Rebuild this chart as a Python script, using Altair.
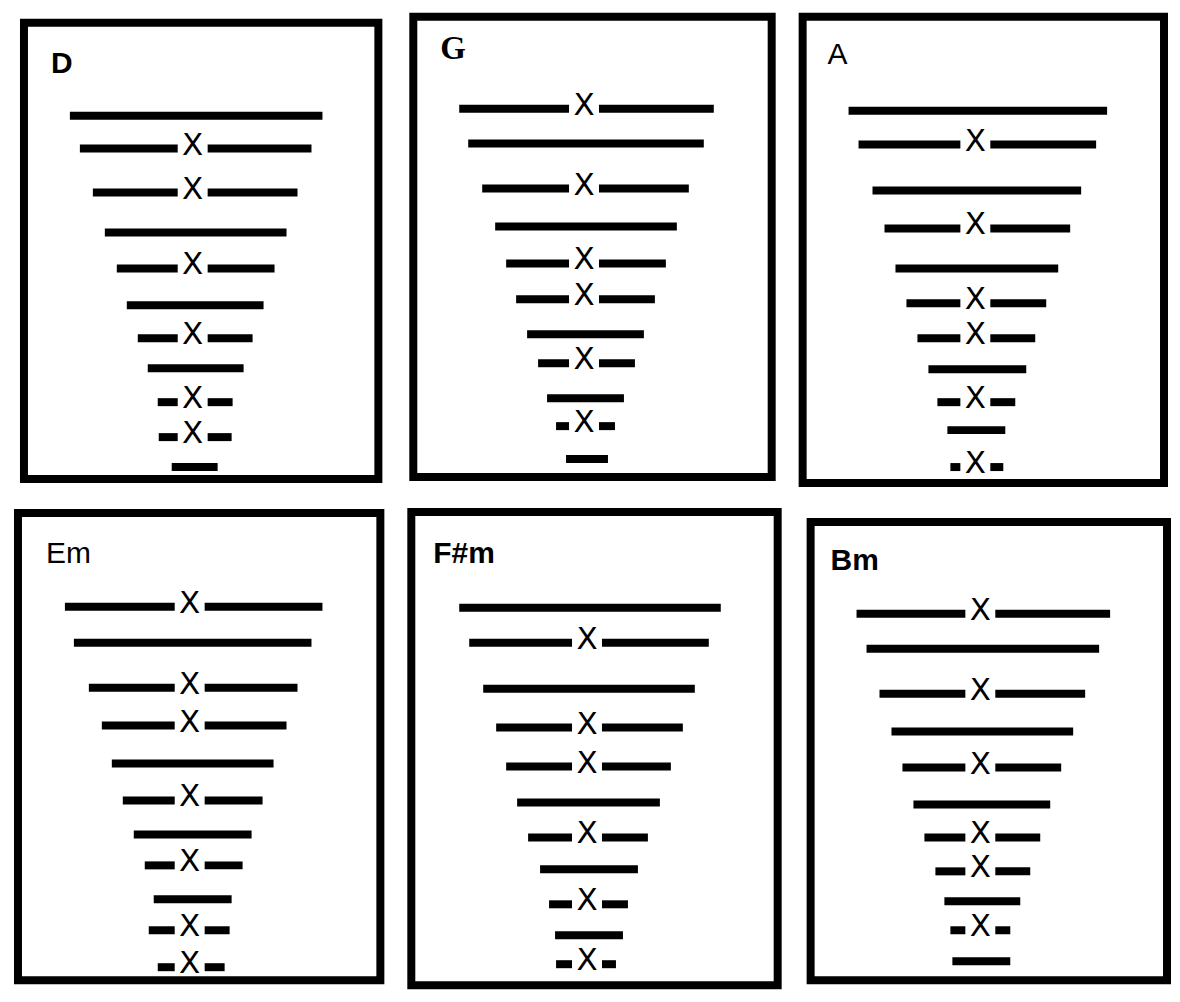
import altair as alt
import pandas as pd

# ---------------- data ----------------
chords = ["D", "G", "A", "Em", "F#m", "Bm"]

# panel frames (outer box centre-line, picture pixels)
frame_x1 = [24, 414, 804, 18, 412, 812]
frame_x2 = [379, 773, 1166, 381, 779, 1169]
frame_y1 = [22, 16, 16, 513, 512, 522]
frame_y2 = [479, 477, 483, 981, 986, 981]

# chord names (left / baseline)
label_x = [51, 441, 829, 46, 434, 832]
label_y = [72, 58, 63, 563, 563, 570]

# column where the X marks sit
x_col = [193, 585, 977, 190, 588, 982]

D_y = [115, 148, 192, 232, 268, 305, 338, 368, 402, 437, 467]
D_left = [70, 80, 93, 105, 117, 127, 138, 148, 158, 159, 172]
D_right = [323, 312, 298, 287, 275, 264, 253, 244, 233, 232, 218]
D_mark = [0, 1, 1, 0, 1, 0, 1, 0, 1, 1, 0]

G_y = [108, 143, 188, 226, 263, 299, 334, 363, 398, 426, 459]
G_left = [460, 469, 483, 496, 507, 517, 528, 539, 548, 557, 567]
G_right = [715, 705, 690, 678, 667, 656, 645, 636, 625, 616, 609]
G_mark = [1, 0, 1, 0, 1, 1, 0, 1, 0, 1, 0]

A_y = [110, 144, 190, 228, 268, 303, 338, 369, 402, 430, 467]
A_left = [850, 860, 874, 886, 897, 908, 919, 930, 939, 949, 952]
A_right = [1109, 1098, 1083, 1072, 1060, 1048, 1037, 1028, 1017, 1007, 1005]
A_mark = [0, 1, 0, 1, 0, 1, 1, 0, 1, 0, 1]

Em_y = [607, 643, 688, 726, 764, 801, 835, 866, 900, 931, 968]
Em_left = [65, 74, 89, 102, 112, 123, 134, 145, 154, 149, 158]
Em_right = [323, 312, 298, 287, 274, 263, 252, 243, 232, 230, 225]
Em_mark = [1, 0, 1, 1, 0, 1, 0, 1, 0, 1, 1]

Fsm_y = [608, 643, 689, 728, 767, 803, 838, 870, 905, 936, 965]
Fsm_left = [460, 470, 484, 497, 507, 518, 529, 541, 550, 556, 557]
Fsm_right = [722, 710, 696, 684, 672, 661, 649, 639, 629, 624, 617]
Fsm_mark = [0, 1, 0, 1, 1, 0, 1, 0, 1, 0, 1]

Bm_y = [614, 649, 694, 732, 768, 805, 838, 872, 902, 931, 962]
Bm_left = [858, 868, 881, 893, 904, 915, 926, 937, 946, 952, 954]
Bm_right = [1112, 1101, 1087, 1075, 1063, 1052, 1042, 1032, 1022, 1012, 1012]
Bm_mark = [1, 0, 1, 0, 1, 0, 1, 1, 0, 1, 0]

rows = {
    "D": (D_y, D_left, D_right, D_mark),
    "G": (G_y, G_left, G_right, G_mark),
    "A": (A_y, A_left, A_right, A_mark),
    "Em": (Em_y, Em_left, Em_right, Em_mark),
    "F#m": (Fsm_y, Fsm_left, Fsm_right, Fsm_mark),
    "Bm": (Bm_y, Bm_left, Bm_right, Bm_mark),
}

# ---------------- style constants ----------------
HALF_GAP = 15
BAR_W = 8
X_SIZE = 31

# ---------------- build tables ----------------
seg_recs, x_recs = [], []
for i, c in enumerate(chords):
    ys, ls, rs, ms = rows[c]
    xc = x_col[i]
    for y, l, r, m in zip(ys, ls, rs, ms):
        if m:
            seg_recs.append({"chord": c, "y": y, "x1": l, "x2": xc - HALF_GAP})
            seg_recs.append({"chord": c, "y": y, "x1": xc + HALF_GAP, "x2": r})
            x_recs.append({"chord": c, "y": y, "x": xc})
        else:
            seg_recs.append({"chord": c, "y": y, "x1": l, "x2": r})

segs = pd.DataFrame(seg_recs)
xs = pd.DataFrame(x_recs)
frames = pd.DataFrame({"chord": chords, "x1": frame_x1, "x2": frame_x2,
                       "y1": frame_y1, "y2": frame_y2})
labels = pd.DataFrame({"chord": chords, "x": label_x, "y": label_y})

W, H = 1166, 986
xs_scale = alt.Scale(domain=[8, 8 + W], nice=False, zero=False)
ys_scale = alt.Scale(domain=[8, 8 + H], nice=False, zero=False, reverse=True)
X = lambda f: alt.X(f, type="quantitative", scale=xs_scale, axis=None)
Y = lambda f: alt.Y(f, type="quantitative", scale=ys_scale, axis=None)

bars = alt.Chart(segs).mark_rule(color="black", strokeWidth=BAR_W, strokeCap="butt").encode(
    x=X("x1"), x2="x2", y=Y("y"))

xmarks = alt.Chart(xs).mark_text(text="X", font="DejaVu Sans", fontSize=X_SIZE,
                                 baseline="alphabetic", align="center", dy=6,
                                 color="black").encode(x=X("x"), y=Y("y"))

boxes = alt.Chart(frames).mark_rect(filled=False, stroke="black", strokeWidth=8).encode(
    x=X("x1"), x2="x2", y=Y("y1"), y2="y2")

lab_bold = alt.Chart(labels).transform_filter(
    alt.FieldOneOfPredicate(field="chord", oneOf=["D", "F#m", "Bm"])
).mark_text(font="Liberation Sans", fontSize=30, fontWeight="bold", align="left",
            baseline="alphabetic", color="black").encode(x=X("x"), y=Y("y"), text="chord:N")

lab_norm = alt.Chart(labels).transform_filter(
    alt.FieldOneOfPredicate(field="chord", oneOf=["A", "Em"])
).mark_text(font="Liberation Sans", fontSize=30, align="left",
            baseline="alphabetic", color="black").encode(x=X("x"), y=Y("y"), text="chord:N")

lab_serif = alt.Chart(labels).transform_filter(
    alt.FieldEqualPredicate(field="chord", equal="G")
).mark_text(font="Liberation Serif", fontSize=33, fontWeight="bold", align="left",
            baseline="alphabetic", color="black").encode(x=X("x"), y=Y("y"), text="chord:N")

chart = alt.layer(bars, xmarks, boxes, lab_bold, lab_norm, lab_serif).properties(
    width=W, height=H, padding=0, background="white"
).configure_view(stroke=None)

chart.save("out.html", embed_options={"renderer": "svg", "actions": False})
